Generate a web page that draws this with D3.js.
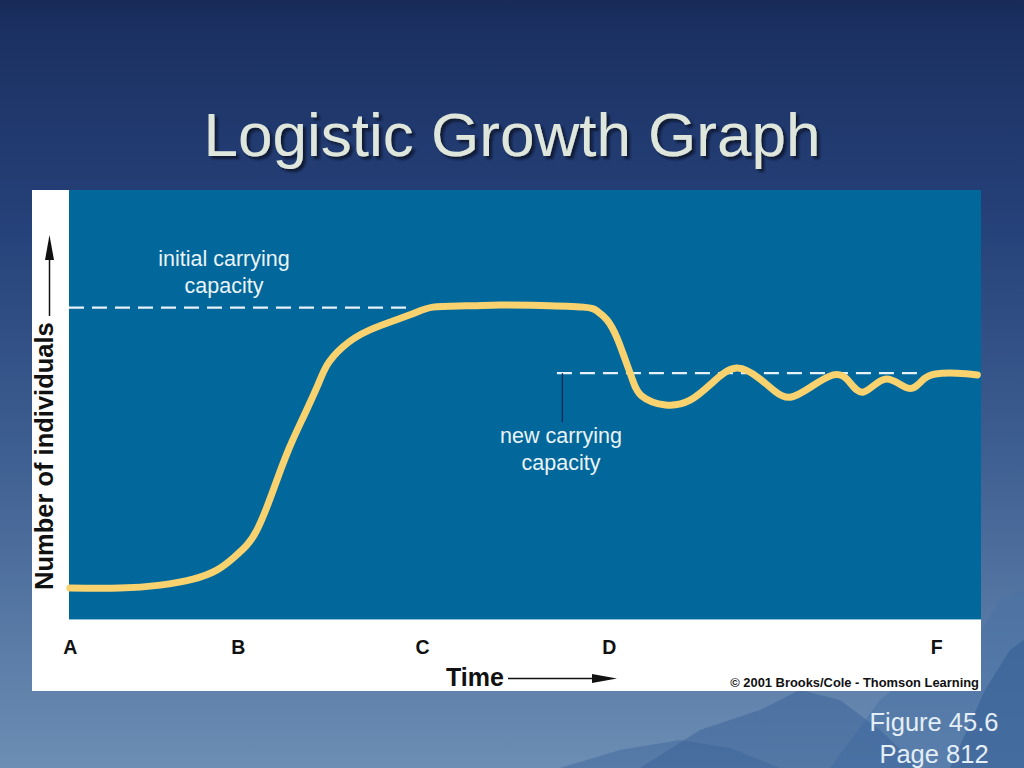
<!DOCTYPE html>
<html>
<head>
<meta charset="utf-8">
<script src="https://cdn.jsdelivr.net/npm/d3@7"></script>
<style>
  html, body { margin: 0; padding: 0; width: 1024px; height: 768px; overflow: hidden; }
  svg { display: block; }
</style>
</head>
<body>
<svg id="chart" width="1024" height="768"></svg>
<script>
// ---------------- data ----------------
const titleText = "Logistic Growth Graph";
const timeLabels = ["A", "B", "C", "D", "F"];
const timeLabelPositions = [0.1, 18.5, 38.7, 59.2, 95.1];
// population curve: time (arbitrary units 0-100) and number of individuals (0-100)
const curveTime = [0.1, 5.6, 10.0, 13.6, 16.2, 18.0, 19.5, 20.6, 21.7, 22.8, 24.2, 25.7, 27.2, 28.3, 30.0, 33.0, 37.4, 39.9, 43.5, 47.3, 51.8, 56.4, 57.9, 59.0, 60.1, 61.0, 61.8, 62.8, 65.4, 68.1, 70.5, 73.2, 75.8, 77.4, 79.1, 81.5, 83.8, 85.4, 87.1, 89.5, 92.0, 93.5, 95.0, 97.4, 99.6];
const curveN =    [7.2, 7.2, 7.9, 9.3, 11.4, 14.2, 17.2, 20.7, 26.1, 32.4, 40.1, 47.1, 54.1, 59.2, 63.4, 67.4, 70.9, 72.7, 73.0, 73.2, 73.1, 72.7, 71.8, 69.7, 65.5, 60.4, 55.7, 52.0, 49.9, 51.0, 55.0, 58.5, 55.9, 53.1, 51.7, 54.3, 56.9, 55.7, 52.9, 55.9, 53.8, 55.5, 57.1, 57.3, 56.9];
const initialCapacity = 72.6;
const initialCapacitySpan = [0, 37.4];
const newCapacity = 57.3;
const newCapacitySpan = [53.5, 93.3];
const newCapacityPointer = [54.1, 45.9]; // time, lower end value
const initialLabel = ["initial carrying", "capacity"];
const newLabel = ["new carrying", "capacity"];
const yAxisLabel = "Number of individuals";
const xAxisLabel = "Time";
const credit = "\u00A9 2001 Brooks/Cole - Thomson Learning";
const figureNote = ["Figure 45.6", "Page 812"];

// ---------------- drawing ----------------
const svg = d3.select("#chart");
const W = 1024, H = 768;
const font = "'Liberation Sans', Arial, Helvetica, sans-serif";

const defs = svg.append("defs");
const bg = defs.append("linearGradient").attr("id", "bg").attr("x1", 0).attr("y1", 0).attr("x2", 0).attr("y2", 1);
[[0, "#172a58"], [0.03, "#1b3061"], [0.3, "#26427a"], [0.6, "#3f6092"], [1, "#6c8eb4"]].forEach(s =>
  bg.append("stop").attr("offset", s[0]).attr("stop-color", s[1]));
const sh = defs.append("filter").attr("id", "shadow").attr("x", "-5%").attr("y", "-20%").attr("width", "110%").attr("height", "140%");
sh.append("feDropShadow").attr("dx", 3).attr("dy", 3).attr("stdDeviation", 1.2).attr("flood-color", "#0a1430").attr("flood-opacity", 0.9);

svg.append("rect").attr("width", W).attr("height", H).attr("fill", "url(#bg)");

// decorative mountains bottom right
const mountains = [
  {pts: [[830, 768], [880, 700], [930, 660], [975, 640], [1000, 600], [1024, 590], [1024, 768]], fill: "#4a72a6", op: 0.55},
  {pts: [[640, 768], [700, 730], [760, 710], [800, 690], [840, 700], [880, 730], [920, 768]], fill: "#3a6298", op: 0.5},
  {pts: [[560, 768], [620, 750], [680, 740], [730, 748], [780, 768]], fill: "#3b6398", op: 0.45},
  {pts: [[950, 768], [985, 690], [1010, 650], [1024, 640], [1024, 768]], fill: "#2f5a90", op: 0.5}
];
svg.append("g").selectAll("path").data(mountains).join("path")
  .attr("d", d => "M" + d.pts.map(p => p.join(",")).join("L") + "Z")
  .attr("fill", d => d.fill).attr("opacity", d => d.op);

// title
svg.append("text").attr("x", 512).attr("y", 156).attr("text-anchor", "middle")
  .attr("font-family", font).attr("font-size", 62).attr("fill", "#dfe7dd")
  .attr("filter", "url(#shadow)").text(titleText);

// white figure panel and plot area
const panel = {x0: 32, y0: 190, x1: 981, y1: 691};
const plot = {x0: 69, y0: 190, x1: 981, y1: 619};
svg.append("rect").attr("x", panel.x0).attr("y", panel.y0).attr("width", panel.x1 - panel.x0).attr("height", panel.y1 - panel.y0).attr("fill", "#ffffff");
svg.append("rect").attr("x", plot.x0).attr("y", plot.y0).attr("width", plot.x1 - plot.x0).attr("height", plot.y1 - plot.y0).attr("fill", "#02679a");
svg.append("line").attr("x1", plot.x0).attr("x2", plot.x1).attr("y1", plot.y1 + 0.5).attr("y2", plot.y1 + 0.5).attr("stroke", "#8fc3dc").attr("stroke-width", 1);

const x = d3.scaleLinear().domain([0, 100]).range([plot.x0, plot.x1]);
const y = d3.scaleLinear().domain([0, 100]).range([plot.y1, plot.y0]);

// carrying capacity dashed lines
const dash = "15,8";
svg.append("line").attr("x1", x(initialCapacitySpan[0])).attr("x2", x(initialCapacitySpan[1]))
  .attr("y1", y(initialCapacity)).attr("y2", y(initialCapacity))
  .attr("stroke", "#e6f2f8").attr("stroke-width", 2.2).attr("stroke-dasharray", dash);
svg.append("line").attr("x1", x(newCapacitySpan[0])).attr("x2", x(newCapacitySpan[1]))
  .attr("y1", y(newCapacity)).attr("y2", y(newCapacity))
  .attr("stroke", "#e6f2f8").attr("stroke-width", 2.2).attr("stroke-dasharray", dash);
svg.append("line").attr("x1", x(newCapacityPointer[0])).attr("x2", x(newCapacityPointer[0]))
  .attr("y1", y(newCapacity)).attr("y2", y(newCapacityPointer[1]))
  .attr("stroke", "#0b2a55").attr("stroke-width", 1.3);

// population curve
const pts = curveTime.map((t, i) => [t, curveN[i]]);
const line = d3.line().x(d => x(d[0])).y(d => y(d[1])).curve(d3.curveNatural);
svg.append("path").datum(pts).attr("d", line).attr("fill", "none")
  .attr("stroke", "#f8d26f").attr("stroke-width", 7).attr("stroke-linecap", "round").attr("stroke-linejoin", "round");

// annotation labels
function multiline(lines, cx, baseY) {
  const t = svg.append("text").attr("text-anchor", "middle").attr("font-family", font)
    .attr("font-size", 21.5).attr("fill", "#eaf4f8");
  lines.forEach((s, i) => t.append("tspan").attr("x", cx).attr("y", baseY + i * 27).text(s));
}
multiline(initialLabel, 224, 266);
multiline(newLabel, 561, 443);

// x axis labels (A..F)
const xAxis = d3.axisBottom(x).tickValues(timeLabelPositions)
  .tickFormat((d, i) => timeLabels[i]).tickSize(0).tickPadding(0);
const gx = svg.append("g").attr("transform", `translate(0,${plot.y1})`).call(xAxis);
gx.select(".domain").remove();
gx.selectAll("text").attr("dy", null).attr("y", 35).attr("font-family", font)
  .attr("font-weight", "bold").attr("font-size", 19.5).attr("fill", "#111");

// Time label with arrow
svg.append("text").attr("x", 475).attr("y", 686).attr("text-anchor", "middle")
  .attr("font-family", font).attr("font-weight", "bold").attr("font-size", 25).attr("fill", "#111").text(xAxisLabel);
svg.append("line").attr("x1", 508).attr("x2", 595).attr("y1", 678.5).attr("y2", 678.5).attr("stroke", "#111").attr("stroke-width", 1.5);
svg.append("path").attr("d", "M592,674 L617,678.5 L592,683 Z").attr("fill", "#111");

// Y label with arrow
svg.append("text").attr("transform", "translate(53,590) rotate(-90)").attr("text-anchor", "start")
  .attr("font-family", font).attr("font-weight", "bold").attr("font-size", 25.5).attr("fill", "#111").text(yAxisLabel);
svg.append("line").attr("x1", 49.5).attr("x2", 49.5).attr("y1", 316).attr("y2", 255).attr("stroke", "#111").attr("stroke-width", 1.5);
svg.append("path").attr("d", "M45,260 L49.5,235 L54,260 Z").attr("fill", "#111");

// credit
svg.append("text").attr("x", 979).attr("y", 687).attr("text-anchor", "end")
  .attr("font-family", font).attr("font-weight", "bold").attr("font-size", 12.9).attr("fill", "#111").text(credit);

// figure note
figureNote.forEach((s, i) => svg.append("text").attr("x", 934).attr("y", 731 + i * 32).attr("text-anchor", "middle")
  .attr("font-family", font).attr("font-size", 25.5).attr("fill", "#e4eef6").text(s));
</script>
</body>
</html>
